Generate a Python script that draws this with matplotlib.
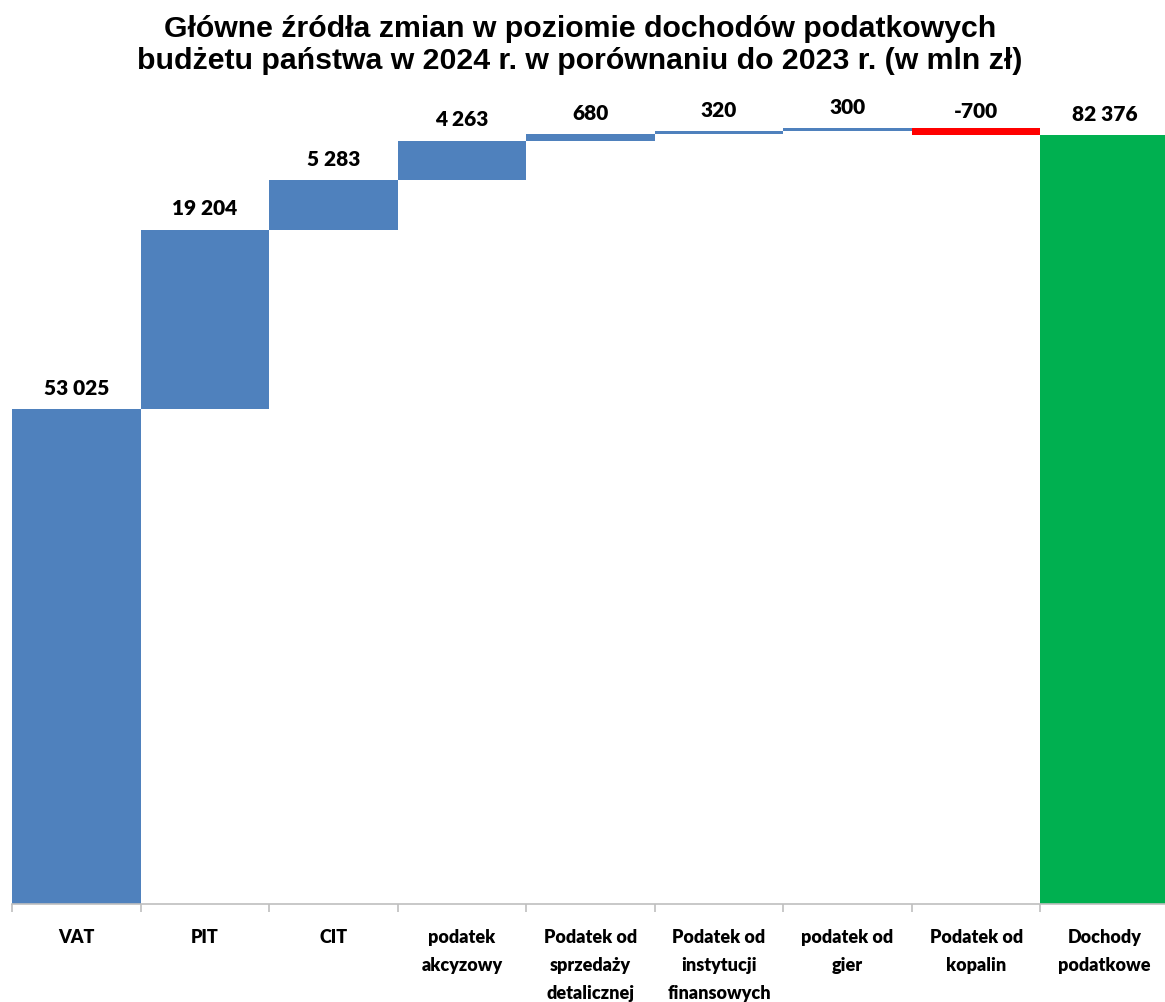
import matplotlib
matplotlib.use("Agg")
import matplotlib.pyplot as plt
import numpy as np

categories = ["VAT", "PIT", "CIT", "podatek\nakcyzowy", "Podatek od\nsprzedaży\ndetalicznej",
              "Podatek od\ninstytucji\nfinansowych", "podatek od\ngier", "Podatek od\nkopalin",
              "Dochody\npodatkowe"]
changes = [53025, 19204, 5283, 4263, 680, 320, 300, -700]
total = 82376
labels = ["53 025", "19 204", "5 283", "4 263", "680", "320", "300", "-700", "82 376"]

W, H = 1165, 1003
fig = plt.figure(figsize=(W / 100, H / 100), dpi=100)
ax = fig.add_axes([12 / W, (H - 905) / H, 1157 / W, 0.9])

height_px = 0.9 * H
ax.set_ylim(0, height_px / 0.009335)

x = np.arange(len(categories))
bottoms = []
heights = []
colors = []
run = 0
for c in changes:
    if c >= 0:
        bottoms.append(run); heights.append(c); colors.append("#4F81BD")
    else:
        bottoms.append(run + c); heights.append(-c); colors.append("#FF0000")
    run += c
bottoms.append(0); heights.append(total); colors.append("#00B050")

ax.bar(x, heights, bottom=bottoms, width=1.0, color=colors, edgecolor="none")
ax.set_xlim(-0.5, len(categories) - 0.5)

for i, (b, h, lab) in enumerate(zip(bottoms, heights, labels)):
    top = b + h
    off = 6 if lab == "-700" else 9
    ax.annotate(lab, (i, top), xytext=(0, off), textcoords="offset points",
                ha="center", va="bottom", fontsize=15, fontweight="heavy",
                family=["Lato", "DejaVu Sans"], color="black")

for s in ["top", "right", "left"]:
    ax.spines[s].set_visible(False)
ax.spines["bottom"].set_color("#BFBFBF")
ax.spines["bottom"].set_linewidth(1.2)
ax.set_yticks([])
ax.set_xticks(np.arange(-0.5, len(categories), 1.0), minor=False)
ax.set_xticklabels([])
ax.tick_params(axis="x", which="major", length=6, color="#BFBFBF", width=1.2)
ax.set_xticks(x, minor=True)
ax.set_xticklabels(categories, minor=True, fontsize=13, fontweight="heavy",
                   family=["Lato", "DejaVu Sans"], linespacing=1.8, va="top")
ax.tick_params(axis="x", which="minor", length=0, pad=17)

fig.text(580 / W, 1 - 45 / H,
         "Główne źródła zmian w poziomie dochodów podatkowych\nbudżetu państwa w 2024 r. w porównaniu do 2023 r. (w mln zł)",
         ha="center", va="center", fontsize=21.8, fontweight="bold",
         family=["Liberation Sans", "DejaVu Sans"], linespacing=1.2)

fig.savefig("out.png", dpi=100)
